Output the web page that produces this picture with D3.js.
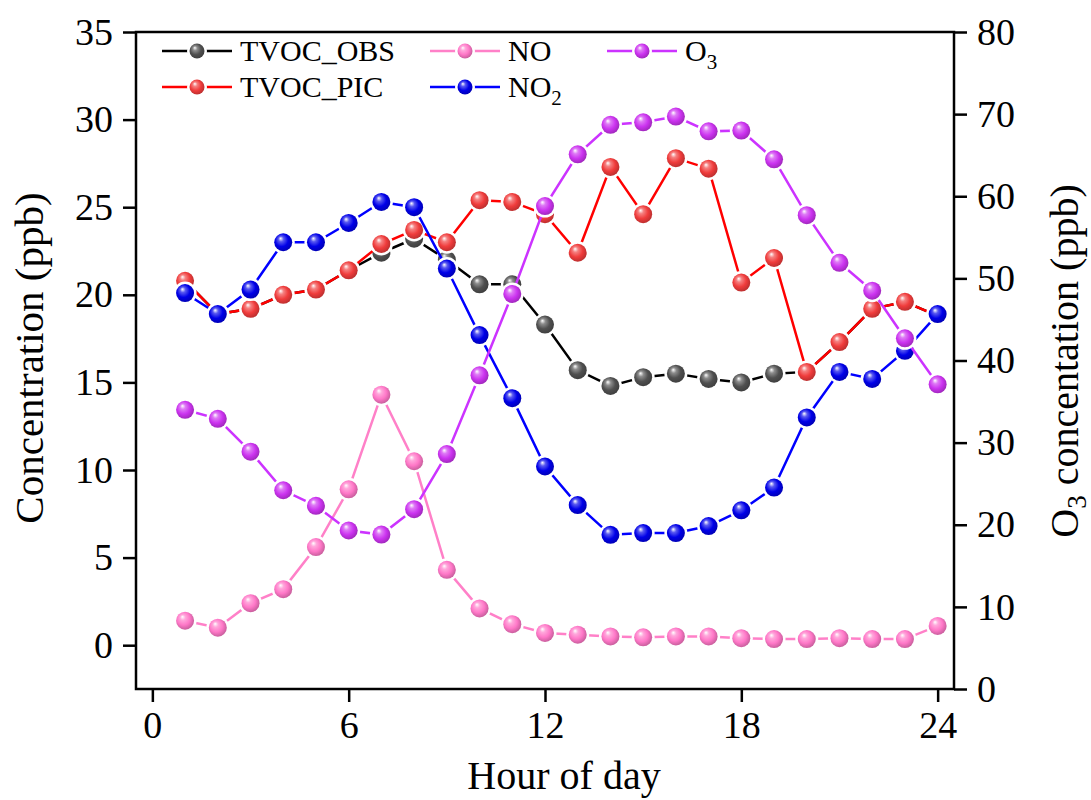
<!DOCTYPE html>
<html>
<head>
<meta charset="utf-8">
<script src="https://cdn.jsdelivr.net/npm/d3@7"></script>
<style>
  body { margin: 0; background: #fff; }
  svg text { font-family: "Liberation Serif", "Times New Roman", serif; fill: #000; }
</style>
</head>
<body>
<svg id="chart" width="1091" height="800"></svg>
<script>
// data
const hours = [1, 2, 3, 4, 5, 6, 7, 8, 9, 10, 11, 12, 13, 14, 15, 16, 17, 18, 19, 20, 21, 22, 23, 24];
const tvocObs = [20.8, 18.9, 19.2, 20.0, 20.3, 21.4, 22.4, 23.2, 22.0, 20.6, 20.6, 18.3, 15.7, 14.8, 15.3, 15.5, 15.2, 15.0, 15.5, 15.6, 17.3, 19.2, 19.6, 18.8];
const tvocPic = [20.8, 18.9, 19.2, 20.0, 20.3, 21.4, 22.9, 23.7, 23.0, 25.4, 25.3, 24.6, 22.4, 27.3, 24.6, 27.8, 27.2, 20.7, 22.1, 15.6, 17.3, 19.2, 19.6, 18.8];
const noVals = [1.4, 1.0, 2.4, 3.2, 5.6, 8.9, 14.3, 10.5, 4.3, 2.1, 1.2, 0.7, 0.6, 0.5, 0.45, 0.5, 0.5, 0.4, 0.35, 0.35, 0.4, 0.35, 0.35, 1.1];
const no2Vals = [20.1, 18.9, 20.3, 23.0, 23.0, 24.1, 25.3, 25.0, 21.5, 17.7, 14.1, 10.2, 8.0, 6.3, 6.4, 6.4, 6.8, 7.7, 9.0, 13.0, 15.6, 15.2, 16.8, 18.9];
const o3Vals = [34.0, 32.9, 28.9, 24.2, 22.3, 19.3, 18.8, 21.9, 28.6, 38.2, 48.1, 58.8, 65.1, 68.7, 69.0, 69.7, 67.9, 68.0, 64.5, 57.7, 51.9, 48.5, 42.7, 37.1];

const xTicks = [0, 6, 12, 18, 24];
const yLeftTicks = [0, 5, 10, 15, 20, 25, 30, 35];
const yRightTicks = [0, 10, 20, 30, 40, 50, 60, 70, 80];

// series: draw order bottom -> top
const series = [
    { name: "TVOC_OBS", values: tvocObs, axis: "left", line: "#000000", ball: "#505050", id: "gObs" },
    { name: "TVOC_PIC", values: tvocPic, axis: "left", line: "#ff0000", ball: "#f03c3c", id: "gPic" },
    { name: "NO", values: noVals, axis: "left", line: "#ff80c8", ball: "#ff78c8", id: "gNo" },
    { name: "NO2", values: no2Vals, axis: "left", line: "#0000ff", ball: "#0000e8", id: "gNo2" },
    { name: "O3", values: o3Vals, axis: "right", line: "#cc33ff", ball: "#cc33f0", id: "gO3" },
];

const svg = d3.select("#chart");
const plotLeft = 136, plotRight = 954, plotTop = 32, plotBottom = 689;

const x = d3.scaleLinear().domain([-0.5, 24.5]).range([plotLeft, plotRight]);
const yL = d3.scaleLinear().domain([-2.5, 35]).range([plotBottom, plotTop]);
const yR = d3.scaleLinear().domain([0, 80]).range([plotBottom, plotTop]);

// sphere gradients
const defs = svg.append("defs");
series.forEach(s => {
    const grad = defs.append("radialGradient")
        .attr("id", s.id)
        .attr("cx", "45%").attr("cy", "45%").attr("r", "60%")
        .attr("fx", "35%").attr("fy", "28%");
    grad.append("stop").attr("offset", "0%").attr("stop-color", "#ffffff");
    grad.append("stop").attr("offset", "25%").attr("stop-color", d3.interpolateRgb(s.ball, "#fff")(0.35));
    grad.append("stop").attr("offset", "60%").attr("stop-color", s.ball);
    grad.append("stop").attr("offset", "100%").attr("stop-color", d3.color(s.ball).darker(0.8));
});

// axes
const tickFont = "38px";
const xAxis = svg.append("g")
    .attr("transform", "translate(0," + plotBottom + ")")
    .call(d3.axisBottom(x).tickValues(xTicks).tickSize(13).tickSizeOuter(0).tickPadding(9));
const yAxisL = svg.append("g")
    .attr("transform", "translate(" + plotLeft + ",0)")
    .call(d3.axisLeft(yL).tickValues(yLeftTicks).tickSize(13).tickSizeOuter(0).tickPadding(10));
const yAxisR = svg.append("g")
    .attr("transform", "translate(" + plotRight + ",0)")
    .call(d3.axisRight(yR).tickValues(yRightTicks).tickSize(13).tickSizeOuter(0).tickPadding(10));

[xAxis, yAxisL, yAxisR].forEach(a => {
    a.select(".domain").remove();
    a.selectAll(".tick line").attr("stroke", "#000").attr("stroke-width", 2.5);
    a.selectAll(".tick text")
        .style("font-family", "Liberation Serif")
        .style("font-size", tickFont)
        .attr("fill", "#000");
});

// frame
svg.append("rect")
    .attr("x", plotLeft).attr("y", plotTop)
    .attr("width", plotRight - plotLeft).attr("height", plotBottom - plotTop)
    .attr("fill", "none").attr("stroke", "#000").attr("stroke-width", 2.5);

// axis titles
svg.append("text")
    .attr("x", 564)
    .attr("y", 789)
    .attr("text-anchor", "middle")
    .style("font-size", "40px")
    .text("Hour of day");

svg.append("text")
    .attr("text-anchor", "middle")
    .attr("transform", "translate(43,358)rotate(-90)")
    .style("font-size", "41px")
    .text("Concentration (ppb)");

const rt = svg.append("text")
    .attr("text-anchor", "middle")
    .attr("transform", "translate(1078,361)rotate(-90)")
    .style("font-size", "40px");
rt.append("tspan").text("O");
rt.append("tspan").attr("dy", 8).style("font-size", "27px").text("3");
rt.append("tspan").attr("dy", -8).text(" concentation (ppb)");

// lines and balls
const plot = svg.append("g");
series.forEach(s => {
    const yS = s.axis === "left" ? yL : yR;
    const pts = hours.map((h, i) => [h, s.values[i]]);
    const g = plot.append("g").attr("class", "series");
    g.append("path")
        .datum(pts)
        .attr("fill", "none")
        .attr("stroke", s.line)
        .attr("stroke-width", 2.5)
        .attr("d", d3.line().x(d => x(d[0])).y(d => yS(d[1])));
    g.selectAll("circle.halo")
        .data(pts)
        .enter()
        .append("circle")
        .attr("class", "halo")
        .attr("cx", d => x(d[0]))
        .attr("cy", d => yS(d[1]))
        .attr("r", 11.5)
        .attr("fill", "#fff");
    g.selectAll("circle.ball")
        .data(pts)
        .enter()
        .append("circle")
        .attr("class", "ball")
        .attr("cx", d => x(d[0]))
        .attr("cy", d => yS(d[1]))
        .attr("r", 9)
        .attr("fill", "url(#" + s.id + ")");
});

// legend
const legendPos = [
    { lx: 162, ly: 51 },
    { lx: 162, ly: 87 },
    { lx: 430, ly: 51 },
    { lx: 430, ly: 87 },
    { lx: 607, ly: 51 },
];
const legend = svg.append("g");
series.forEach((s, i) => {
    const p = legendPos[i];
    const g = legend.append("g").attr("transform", "translate(" + p.lx + "," + p.ly + ")");
    g.append("line").attr("x1", 0).attr("x2", 70).attr("y1", 0).attr("y2", 0)
        .attr("stroke", s.line).attr("stroke-width", 2.5);
    g.append("circle").attr("cx", 35).attr("cy", 0).attr("r", 10).attr("fill", "#fff");
    g.append("circle").attr("cx", 35).attr("cy", 0).attr("r", 7.5).attr("fill", "url(#" + s.id + ")");
    const t = g.append("text").attr("x", 78).attr("y", 10).style("font-size", "30px");
    if (s.name === "NO2" || s.name === "O3") {
        t.append("tspan").text(s.name.slice(0, -1));
        t.append("tspan").attr("dy", 8).style("font-size", "21px").text(s.name.slice(-1));
    } else {
        t.text(s.name);
    }
});
</script>
</body>
</html>
